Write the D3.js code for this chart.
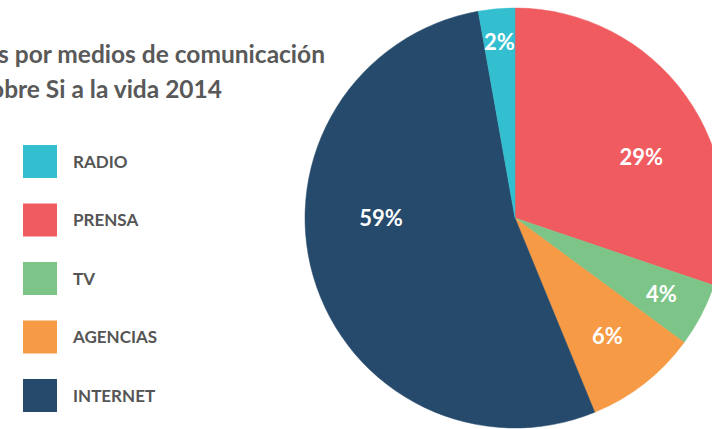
<!DOCTYPE html>
<html>
<head>
<meta charset="utf-8">
<script src="https://cdn.jsdelivr.net/npm/d3@7"></script>
<style>
  body { margin: 0; background: #fff; overflow: hidden; }
  svg { display: block; }
</style>
</head>
<body>
<div id="content"></div>
<script>
// legend order (top to bottom)
var categories = ["RADIO", "PRENSA", "TV", "AGENCIAS", "INTERNET"];
// share of the pie
var values = [2.8, 30.2, 4.9, 8.7, 53.4];
// printed labels
var labels = ["2%", "29%", "4%", "6%", "59%"];
// pie is drawn clockwise from 12 o'clock starting with PRENSA, RADIO last
var pieOrder = ["PRENSA", "TV", "AGENCIAS", "INTERNET", "RADIO"];
var titleLines = ["Noticias por medios de comunicación", "sobre Si a la vida 2014"];

var width = 712, height = 429;
var cx = 515, cy = 218, radius = 210;
var font = "Lato, 'Open Sans', sans-serif";
var grey = "#595959";

var colour = d3.scaleOrdinal()
    .domain(categories)
    .range(["#33BFCF", "#F05B5F", "#7CC487", "#F69A45", "#264A6B"]);

// label angle nudges (degrees) to follow the original placement
var labelNudge = { "PRENSA": 10, "INTERNET": 16 };
var labelRadius = { "RADIO": 177, "PRENSA": 140, "TV": 165, "AGENCIAS": 150, "INTERNET": 134 };

var chart = d3.select("#content")
    .append("svg")
    .attr("width", width)
    .attr("height", height);

// title, right-aligned lines that run off the left edge
var titleEnds = [325, 222];
titleLines.forEach(function(t, i) {
    chart.append("text")
        .attr("x", titleEnds[i])
        .attr("y", 63 + i * 35)
        .attr("text-anchor", "end")
        .attr("font-family", font)
        .attr("font-weight", "bold")
        .attr("font-size", "24.5px")
        .attr("fill", grey)
        .text(t);
});

// legend
var swatch = 33;
var ly = d3.scalePoint()
    .domain(categories)
    .range([145, 379]);

var legend = chart.append("g");
categories.forEach(function(c) {
    legend.append("rect")
        .attr("x", 23)
        .attr("y", ly(c))
        .attr("width", 34)
        .attr("height", swatch)
        .attr("fill", colour(c));
    legend.append("text")
        .attr("x", 73)
        .attr("y", ly(c) + swatch / 2)
        .attr("dy", "0.36em")
        .attr("font-family", font)
        .attr("font-weight", "bold")
        .attr("font-size", "17px")
        .attr("fill", "#555")
        .text(c);
});

// pie
var data = pieOrder.map(function(c) {
    var i = categories.indexOf(c);
    return { cat: c, value: values[i], label: labels[i] };
});

var pie = d3.pie()
    .sort(null)
    .value(function(d) { return d.value; });

var arc = d3.arc()
    .innerRadius(0)
    .outerRadius(radius);

var g = chart.append("g")
    .attr("transform", "translate(" + cx + "," + cy + ")");

var arcs = pie(data);

g.selectAll("path")
    .data(arcs)
    .enter()
    .append("path")
    .attr("d", arc)
    .attr("fill", function(d) { return colour(d.data.cat); })
    .attr("stroke", function(d) { return colour(d.data.cat); })
    .attr("stroke-width", 0.5);

g.selectAll("text.lbl")
    .data(arcs)
    .enter()
    .append("text")
    .attr("class", "lbl")
    .attr("transform", function(d) {
        var a = (d.startAngle + d.endAngle) / 2 + (labelNudge[d.data.cat] || 0) * Math.PI / 180;
        var r = labelRadius[d.data.cat];
        return "translate(" + (Math.sin(a) * r) + "," + (-Math.cos(a) * r) + ")";
    })
    .attr("text-anchor", "middle")
    .attr("dy", "0.36em")
    .attr("font-family", font)
    .attr("font-weight", "bold")
    .attr("font-size", "22px")
    .attr("fill", "#fff")
    .text(function(d) { return d.data.label; });
</script>
</body>
</html>
